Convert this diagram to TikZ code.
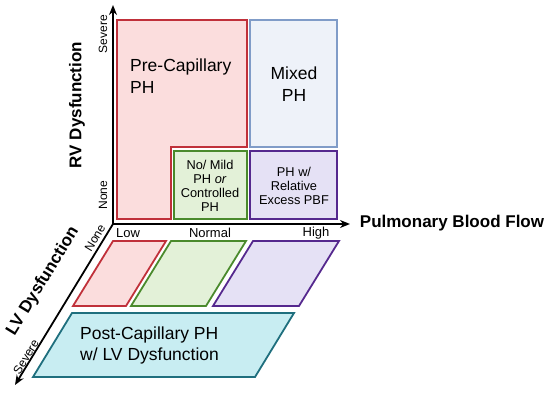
\documentclass[tikz,border=0pt]{standalone}
\usepackage{fontspec}
\setmainfont{Liberation Sans}
\usetikzlibrary{arrows.meta}
\definecolor{redB}{HTML}{C0303A}
\definecolor{redF}{HTML}{FBDDDD}
\definecolor{bluB}{HTML}{809CC8}
\definecolor{bluF}{HTML}{EEF2F9}
\definecolor{grnB}{HTML}{4A8A2C}
\definecolor{grnF}{HTML}{E3F1D8}
\definecolor{purB}{HTML}{55288E}
\definecolor{purF}{HTML}{E5E1F5}
\definecolor{cyaB}{HTML}{1F6F7E}
\definecolor{cyaF}{HTML}{C8EDF2}
\tikzset{
  region/.style={line width=1.8pt, line join=miter},
  axisarrow/.style={line width=1.8pt, -{Stealth[length=10pt,width=8pt]}},
  axtitle/.style={font=\bfseries\fontsize{17}{20}\selectfont, inner sep=0pt},
  ticklab/.style={font=\fontsize{12}{14}\selectfont, inner sep=0pt},
  xticklab/.style={font=\fontsize{13}{15}\selectfont, inner sep=0pt},
  bigtxt/.style={font=\fontsize{17.5}{22}\selectfont, inner sep=0pt, align=center},
  smalltxt/.style={font=\fontsize{12.8}{14.2}\selectfont, inner sep=0pt, align=center},
}
\begin{document}
\begin{tikzpicture}[x=1pt,y=-1pt]
\useasboundingbox (0,0) rectangle (550,393);
% regions
\draw[region, draw=redB, fill=redF] (117,20) -- (247,20) -- (247,147) -- (171,147) -- (171,219) -- (117,219) -- cycle;
\draw[region, draw=bluB, fill=bluF] (250,20) rectangle (337,147);
\draw[region, draw=grnB, fill=grnF] (174,151) rectangle (247,219);
\draw[region, draw=purB, fill=purF] (250,151) rectangle (337,219);
% lower parallelograms
\draw[region, draw=redB, fill=redF] (113,241) -- (166,241) -- (126,306) -- (73,306) -- cycle;
\draw[region, draw=grnB, fill=grnF] (171,241) -- (246,241) -- (206,306) -- (131,306) -- cycle;
\draw[region, draw=purB, fill=purF] (253,241) -- (339,241) -- (299,306) -- (213,306) -- cycle;
\draw[region, draw=cyaB, fill=cyaF] (72,313) -- (294,313) -- (255,377) -- (33,377) -- cycle;
% axes
\coordinate (O) at (113,224);
\coordinate (Ytip) at (113,5);
\coordinate (Xtip) at (350,224);
\coordinate (Ztip) at (15,385);
\draw[axisarrow] (O) -- (Ytip);
\draw[axisarrow] (O) -- (Xtip);
\draw[axisarrow] (O) -- (Ztip);
% axis titles
\node[axtitle, rotate=90] (rv) at (77,105) {RV Dysfunction};
\node[axtitle] (pbf) at (452,223) {Pulmonary Blood Flow};
\node[axtitle, rotate=58.7] (lv) at (43,281) {LV Dysfunction};
% tick labels
\node[ticklab, rotate=90] (ysev) at (103,34) {Severe};
\node[ticklab, rotate=90] (ynone) at (103,195) {None};
\node[xticklab] (xlow) at (128,233) {Low};
\node[xticklab] (xnorm) at (210,233) {Normal};
\node[xticklab] (xhigh) at (316,233) {High};
\node[ticklab, rotate=58.7] (znone) at (95,238) {None};
\node[ticklab, rotate=58.7] (zsev) at (26,357) {Severe};
% region labels
\node[bigtxt, align=left, anchor=west] (pre) at (130,76) {Pre-Capillary\\PH};
\node[bigtxt] (mix) at (294,84) {Mixed\\PH};
\node[smalltxt] (mild) at (210,186) {No/ Mild\\PH \textit{or}\\Controlled\\PH};
\node[smalltxt] (exc) at (294,186) {PH w/\\Relative\\Excess PBF};
\node[bigtxt, align=left, anchor=west, font=\fontsize{17.5}{21}\selectfont] (post) at (80,345) {Post-Capillary PH\\w/ LV Dysfunction};
\end{tikzpicture}
\end{document}
